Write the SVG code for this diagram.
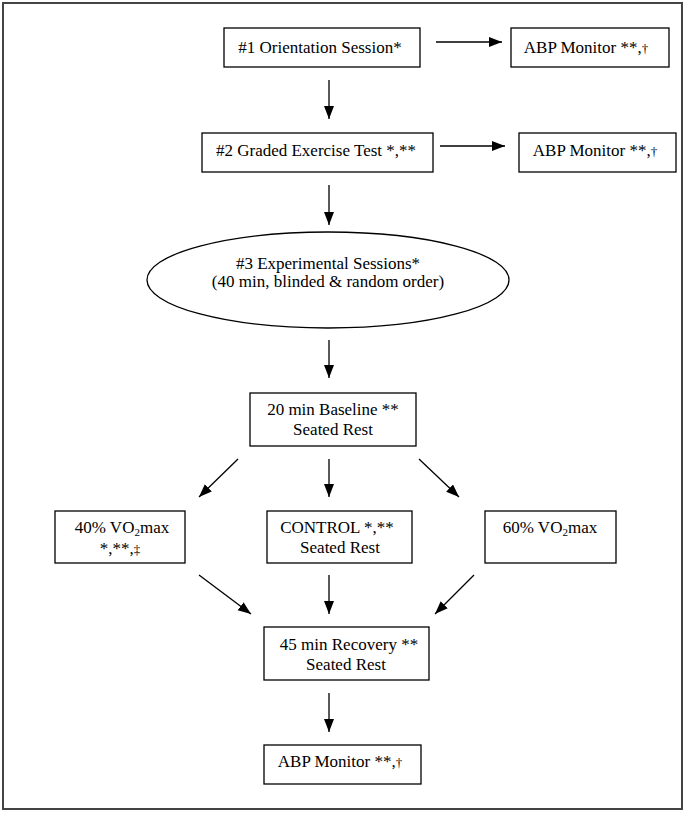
<svg xmlns="http://www.w3.org/2000/svg" width="685" height="814" viewBox="0 0 685 814">
<defs>
<marker id="ah" markerUnits="userSpaceOnUse" markerWidth="14" markerHeight="11" refX="13" refY="5" orient="auto">
<path d="M0,0 L13,5 L0,10 z" fill="#000"/>
</marker>
<style>
text,tspan{font-family:'Liberation Serif',serif !important}
.box{fill:#fff;stroke:#000;stroke-width:1.3}
.ln{stroke:#000;stroke-width:1.3;marker-end:url(#ah)}
</style>
</defs>
<rect x="0" y="0" width="685" height="814" fill="#fff"/>
<rect x="3" y="3" width="679" height="806" fill="none" stroke="#444" stroke-width="2"/>
<g fill="#000" text-anchor="middle" font-size="17">
<g id="n1"><rect class="box" x="224" y="28" width="196" height="39"/><text style="font-family:'Liberation Serif',serif !important" font-family="Liberation Serif" x="320" y="53">#1 Orientation Session*</text></g>
<g id="abp1"><rect class="box" x="511" y="28" width="158" height="39"/><text style="font-family:'Liberation Serif',serif !important" font-family="Liberation Serif" x="586" y="53">ABP Monitor **,<tspan font-size="13">&#8224;</tspan></text></g>
<g id="n2"><rect class="box" x="202" y="133" width="231" height="39"/><text style="font-family:'Liberation Serif',serif !important" font-family="Liberation Serif" x="316" y="156">#2 Graded Exercise Test *,**</text></g>
<g id="abp2"><rect class="box" x="519" y="133" width="157" height="39"/><text style="font-family:'Liberation Serif',serif !important" font-family="Liberation Serif" x="595" y="156">ABP Monitor **,<tspan font-size="13">&#8224;</tspan></text></g>
<g id="n3"><ellipse class="box" cx="328" cy="280" rx="181" ry="48"/><text style="font-family:'Liberation Serif',serif !important" font-family="Liberation Serif" x="328" y="269">#3 Experimental Sessions*</text><text style="font-family:'Liberation Serif',serif !important" font-family="Liberation Serif" x="328" y="287">(40 min, blinded &amp; random order)</text></g>
<g id="baseline"><rect class="box" x="250" y="393" width="166" height="53"/><text style="font-family:'Liberation Serif',serif !important" font-family="Liberation Serif" x="333" y="415">20 min Baseline **</text><text style="font-family:'Liberation Serif',serif !important" font-family="Liberation Serif" x="333" y="435">Seated Rest</text></g>
<g id="vo40"><rect class="box" x="55" y="511" width="130" height="52"/><text style="font-family:'Liberation Serif',serif !important" font-family="Liberation Serif" x="122" y="533">40% VO<tspan font-size="11" dy="3">2</tspan><tspan dy="-3">max</tspan></text><text style="font-family:'Liberation Serif',serif !important" font-family="Liberation Serif" x="120" y="554">*,**,<tspan font-size="13">&#8225;</tspan></text></g>
<g id="control"><rect class="box" x="267" y="511" width="145" height="52"/><text style="font-family:'Liberation Serif',serif !important" font-family="Liberation Serif" x="337" y="533">CONTROL *,**</text><text style="font-family:'Liberation Serif',serif !important" font-family="Liberation Serif" x="340" y="553">Seated Rest</text></g>
<g id="vo60"><rect class="box" x="485" y="511" width="131" height="52"/><text style="font-family:'Liberation Serif',serif !important" font-family="Liberation Serif" x="550" y="533">60% VO<tspan font-size="11" dy="3">2</tspan><tspan dy="-3">max</tspan></text></g>
<g id="recovery"><rect class="box" x="264" y="627" width="165" height="53"/><text style="font-family:'Liberation Serif',serif !important" font-family="Liberation Serif" x="349" y="650">45 min Recovery **</text><text style="font-family:'Liberation Serif',serif !important" font-family="Liberation Serif" x="346" y="670">Seated Rest</text></g>
<g id="abp3"><rect class="box" x="264" y="745" width="157" height="39"/><text style="font-family:'Liberation Serif',serif !important" font-family="Liberation Serif" x="340" y="767">ABP Monitor **,<tspan font-size="13">&#8224;</tspan></text></g>
</g>
<g id="connectors">
<line class="ln" x1="436" y1="42" x2="502" y2="42"/>
<line class="ln" x1="329" y1="80" x2="329" y2="119"/>
<line class="ln" x1="440" y1="146" x2="505" y2="146"/>
<line class="ln" x1="329" y1="185" x2="329" y2="225"/>
<line class="ln" x1="329" y1="340" x2="329" y2="378"/>
<line class="ln" x1="238" y1="459" x2="199" y2="497"/>
<line class="ln" x1="329" y1="459" x2="329" y2="497"/>
<line class="ln" x1="419" y1="459" x2="459" y2="497"/>
<line class="ln" x1="199" y1="575" x2="251" y2="614"/>
<line class="ln" x1="329" y1="575" x2="329" y2="614"/>
<line class="ln" x1="474" y1="575" x2="435" y2="614"/>
<line class="ln" x1="329" y1="693" x2="329" y2="732"/>
</g>
</svg>
